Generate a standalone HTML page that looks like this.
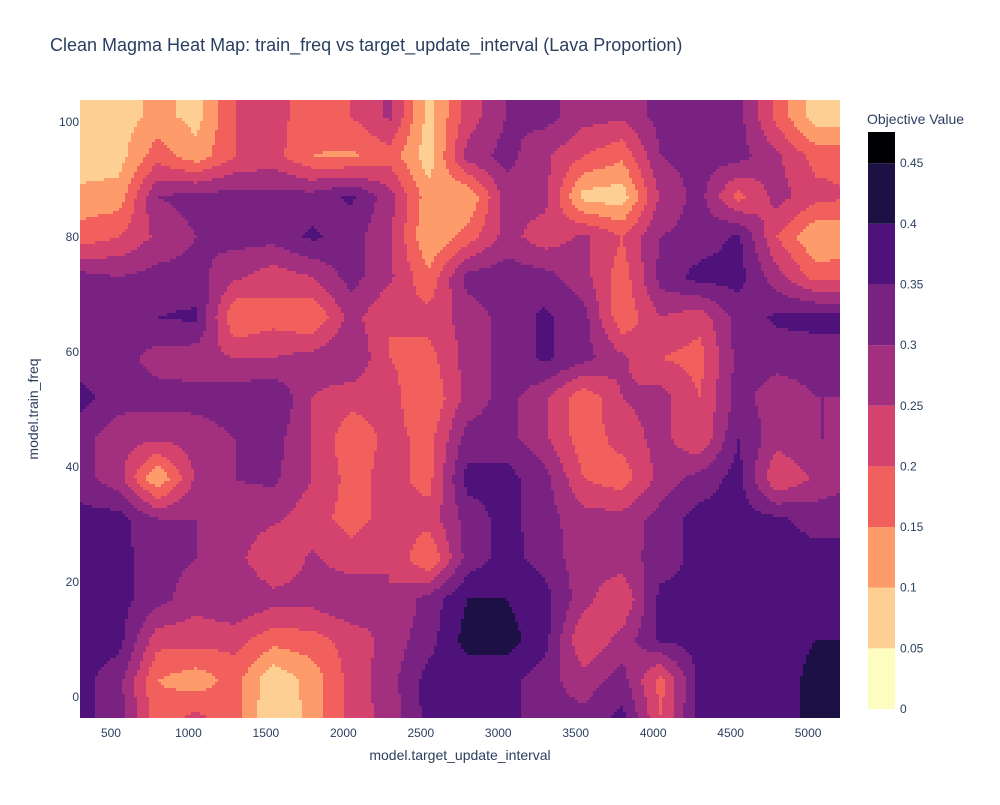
<!DOCTYPE html>
<html><head><meta charset="utf-8">
<style>
body{margin:0;background:#fff;font-family:"Liberation Sans",Arial,sans-serif;}
svg text{font-family:"Liberation Sans",Arial,sans-serif;fill:#2a3f5f;}
</style></head>
<body>
<svg id="chart" width="1000" height="800" viewBox="0 0 1000 800">
<rect width="1000" height="800" fill="#fff"/>
<text x="50" y="51" font-size="18">Clean Magma Heat Map: train_freq vs target_update_interval (Lava Proportion)</text>
<g id="plot"></g>
<g id="xticks"></g>
<g id="yticks"></g>
<text x="460" y="760" font-size="14" text-anchor="middle">model.target_update_interval</text>
<text x="0" y="0" font-size="14" text-anchor="middle" transform="translate(38,409) rotate(-90)">model.train_freq</text>
<g id="cbar"></g>
<text x="867" y="124" font-size="14">Objective Value</text>
</svg>
<script>
const xVals = [300,550,800,1050,1300,1550,1800,2050,2300,2550,2800,3050,3300,3550,3800,4050,4300,4550,4800,5050,5300];
const yVals = [-4,3,10,17,24,31,38,45,52,59,66,73,80,87,94,101];
const zRow0  = [0.37,0.32,0.17,0.22,0.17,0.05,0.12,0.22,0.27,0.37,0.37,0.37,0.32,0.32,0.37,0.20,0.37,0.37,0.37,0.42,0.42];
const zRow1  = [0.37,0.32,0.15,0.12,0.17,0.06,0.12,0.22,0.28,0.37,0.37,0.37,0.32,0.27,0.32,0.18,0.37,0.37,0.37,0.42,0.42];
const zRow2  = [0.37,0.37,0.22,0.22,0.22,0.17,0.18,0.22,0.27,0.33,0.42,0.42,0.37,0.20,0.27,0.36,0.37,0.37,0.37,0.40,0.40];
const zRow3  = [0.37,0.37,0.32,0.27,0.30,0.27,0.27,0.30,0.25,0.32,0.40,0.40,0.37,0.27,0.20,0.37,0.37,0.37,0.37,0.37,0.37];
const zRow4  = [0.37,0.37,0.32,0.30,0.27,0.20,0.26,0.22,0.25,0.15,0.32,0.37,0.33,0.27,0.28,0.32,0.37,0.37,0.37,0.37,0.37];
const zRow5  = [0.37,0.37,0.30,0.30,0.28,0.26,0.22,0.18,0.22,0.22,0.32,0.37,0.32,0.27,0.27,0.32,0.37,0.37,0.36,0.33,0.33];
const zRow6  = [0.32,0.27,0.10,0.26,0.30,0.31,0.25,0.18,0.22,0.18,0.37,0.37,0.32,0.20,0.17,0.27,0.32,0.37,0.20,0.26,0.30];
const zRow7  = [0.32,0.27,0.26,0.27,0.30,0.32,0.25,0.16,0.22,0.18,0.32,0.32,0.26,0.17,0.22,0.27,0.20,0.35,0.27,0.30,0.30];
const zRow8  = [0.37,0.32,0.32,0.32,0.33,0.35,0.25,0.22,0.22,0.15,0.27,0.32,0.26,0.16,0.25,0.27,0.20,0.32,0.27,0.30,0.30];
const zRow9  = [0.32,0.32,0.28,0.27,0.25,0.25,0.27,0.30,0.20,0.18,0.27,0.32,0.36,0.32,0.26,0.20,0.18,0.32,0.32,0.32,0.32];
const zRow10 = [0.32,0.32,0.35,0.36,0.15,0.18,0.15,0.27,0.20,0.22,0.27,0.32,0.36,0.32,0.16,0.25,0.22,0.32,0.36,0.37,0.37];
const zRow11 = [0.32,0.30,0.32,0.32,0.26,0.22,0.25,0.32,0.26,0.16,0.32,0.33,0.32,0.27,0.17,0.32,0.37,0.37,0.27,0.18,0.18];
const zRow12 = [0.17,0.20,0.26,0.30,0.32,0.32,0.36,0.32,0.26,0.10,0.17,0.27,0.22,0.26,0.20,0.30,0.32,0.36,0.20,0.10,0.12];
const zRow13 = [0.12,0.12,0.30,0.32,0.32,0.32,0.32,0.36,0.27,0.12,0.10,0.27,0.27,0.08,0.07,0.26,0.32,0.18,0.27,0.22,0.20];
const zRow14 = [0.06,0.08,0.18,0.12,0.20,0.22,0.15,0.14,0.18,0.07,0.27,0.32,0.26,0.20,0.16,0.30,0.32,0.32,0.26,0.18,0.18];
const zRow15 = [0.06,0.07,0.12,0.08,0.20,0.22,0.17,0.20,0.26,0.08,0.22,0.30,0.32,0.27,0.26,0.32,0.32,0.32,0.18,0.07,0.07];
const zRows = [zRow0,zRow1,zRow2,zRow3,zRow4,zRow5,zRow6,zRow7,zRow8,zRow9,zRow10,zRow11,zRow12,zRow13,zRow14,zRow15];
const xTicks = [500,1000,1500,2000,2500,3000,3500,4000,4500,5000];
const yTicks = [0,20,40,60,80,100];
const cbTicks = [0,0.05,0.1,0.15,0.2,0.25,0.3,0.35,0.4,0.45];
const bandColors = ['#fcfdbf','#fecf92','#fd9b6b','#f1605d','#d3436e','#a3307e','#7a2282','#4f127b','#1c1044','#000004'];

const NS='http://www.w3.org/2000/svg';
const PL=80,PR=840,PT=100,PB=718;
const X0=300,X1=5206,Y0=-3.65,Y1=103.8;
const sx=v=>PL+(v-X0)/(X1-X0)*(PR-PL);
const sy=v=>PB-(v-Y0)/(Y1-Y0)*(PB-PT);
const ix=p=>X0+(p-PL)/(PR-PL)*(X1-X0);
const iy=p=>Y0+(PB-p)/(PB-PT)*(Y1-Y0);
const CB0=709,CBPX=1213;
const cy=v=>CB0-v*CBPX;

function interp(arr,v){
  let i=0;while(i<arr.length-2&&v>arr[i+1])i++;
  let t=(v-arr[i])/(arr[i+1]-arr[i]);t=Math.max(0,Math.min(1,t));return [i,t];
}
function zAt(x,y){
  const [i,tx]=interp(xVals,x),[j,ty]=interp(yVals,y);
  const a=zRows[j][i],b=zRows[j][i+1],c=zRows[j+1][i],d=zRows[j+1][i+1];
  return (a*(1-tx)+b*tx)*(1-ty)+(c*(1-tx)+d*tx)*ty;
}
function band(z){return Math.max(0,Math.min(9,Math.floor(z/0.05)));}

const plot=document.getElementById('plot');
const step=3;
function addRun(x0,x1,y,h,b){
  const r=document.createElementNS(NS,'rect');
  r.setAttribute('x',x0);r.setAttribute('y',y);
  r.setAttribute('width',x1-x0+0.4);r.setAttribute('height',h);
  r.setAttribute('fill',bandColors[b]);
  
  
  plot.appendChild(r);
}
for(let py=PT;py<PB;py+=step){
  const h=Math.min(step+0.5,PB-py);
  const yv=iy(py+step/2);
  let start=PL,cur=null;
  for(let px=PL;px<PR;px+=step){
    const b=band(zAt(ix(Math.min(px+step/2,PR)),yv));
    if(b!==cur){
      if(cur!==null) addRun(start,px,py,h,cur);
      cur=b;start=px;
    }
  }
  addRun(start,PR-0.4,py,h,cur);
}
const xt=document.getElementById('xticks');
xTicks.forEach(v=>{
  const t=document.createElementNS(NS,'text');
  t.setAttribute('x',sx(v));t.setAttribute('y',737);t.setAttribute('font-size','12');t.setAttribute('text-anchor','middle');
  t.textContent=v;
  
  
  xt.appendChild(t);
});
const yt=document.getElementById('yticks');
yTicks.forEach(v=>{
  const t=document.createElementNS(NS,'text');
  t.setAttribute('x',79);t.setAttribute('y',sy(v)+4);t.setAttribute('font-size','12');t.setAttribute('text-anchor','end');
  t.textContent=v;
  
  
  yt.appendChild(t);
});
const cb=document.getElementById('cbar');
bandColors.forEach((c,i)=>{
  const top=i===9?132:cy((i+1)*0.05);
  const r=document.createElementNS(NS,'rect');
  r.setAttribute('x',868);r.setAttribute('y',top);r.setAttribute('width',27);r.setAttribute('height',cy(i*0.05)-top);
  r.setAttribute('fill',c);
  
  
  cb.appendChild(r);
});
cbTicks.forEach(v=>{
  const t=document.createElementNS(NS,'text');
  t.setAttribute('x',900);t.setAttribute('y',cy(v)+4);t.setAttribute('font-size','12');
  t.textContent=String(v);
  
  
  cb.appendChild(t);
});
</script>
</body></html>
